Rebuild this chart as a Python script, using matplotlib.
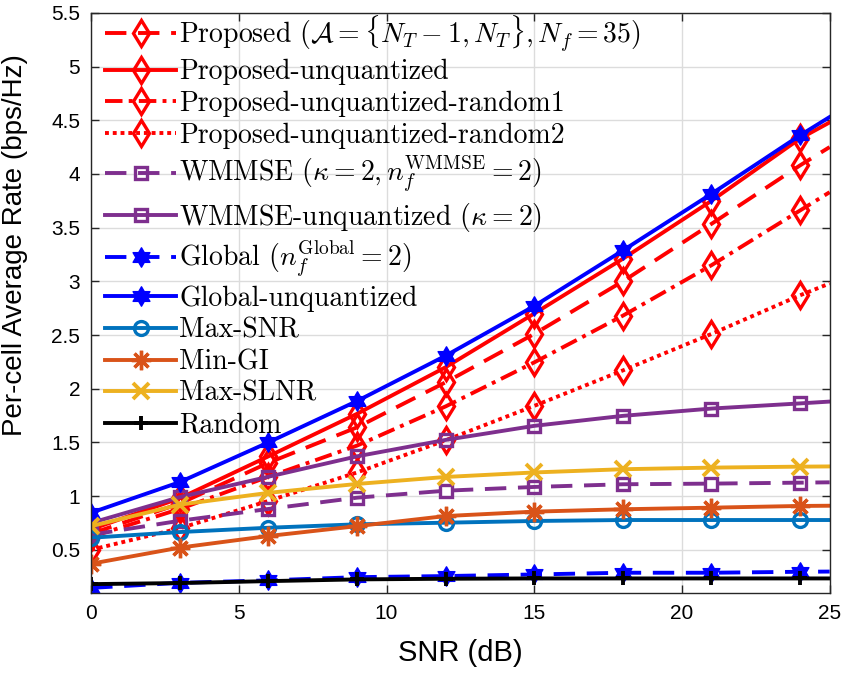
import matplotlib
matplotlib.use("Agg")
import matplotlib.pyplot as plt
import numpy as np
from matplotlib.path import Path

# SNR grid; last point only continues the lines to the right border
SNR_DB = [0, 3, 6, 9, 12, 15, 18, 21, 24, 25]

PROPOSED = [0.65, 0.93, 1.31, 1.64, 2.06, 2.51, 3.00, 3.535, 4.08, 4.25]
PROPOSED_UNQ = [0.69, 0.98, 1.37, 1.766, 2.20, 2.70, 3.21, 3.75, 4.33, 4.48]
PROPOSED_RAND1 = [0.62, 0.88, 1.18, 1.47, 1.835, 2.245, 2.68, 3.15, 3.66, 3.83]
PROPOSED_RAND2 = [0.50, 0.70, 0.955, 1.22, 1.52, 1.84, 2.17, 2.51, 2.87, 2.98]
WMMSE = [0.64, 0.77, 0.88, 0.985, 1.05, 1.085, 1.11, 1.116, 1.125, 1.128]
WMMSE_UNQ = [0.75, 0.99, 1.18, 1.37, 1.523, 1.654, 1.747, 1.815, 1.863, 1.88]
GLOBAL = [0.145, 0.192, 0.215, 0.245, 0.255, 0.27, 0.286, 0.286, 0.295, 0.297]
GLOBAL_UNQ = [0.845, 1.13, 1.50, 1.885, 2.307, 2.77, 3.287, 3.815, 4.36, 4.53]
MAX_SNR = [0.612, 0.665, 0.705, 0.737, 0.752, 0.768, 0.777, 0.777, 0.777, 0.777]
MIN_GI = [0.37, 0.52, 0.628, 0.72, 0.814, 0.855, 0.877, 0.892, 0.908, 0.91]
MAX_SLNR = [0.72, 0.92, 1.03, 1.113, 1.178, 1.22, 1.25, 1.265, 1.274, 1.276]
RANDOM = [0.18, 0.19, 0.208, 0.224, 0.23, 0.233, 0.233, 0.233, 0.233, 0.233]

LABELS = [
    r"Proposed ($\mathcal{A}=\{N_T-1,N_T\},N_f=35$)",
    "Proposed-unquantized",
    "Proposed-unquantized-random1",
    "Proposed-unquantized-random2",
    r"WMMSE ($\kappa=2,n_f^{\mathrm{WMMSE}}=2$)",
    r"WMMSE-unquantized ($\kappa=2$)",
    r"Global ($n_f^{\mathrm{Global}}=2$)",
    "Global-unquantized",
    "Max-SNR",
    "Min-GI",
    "Max-SLNR",
    "Random",
]


def hexagram():
    verts = []
    for k in range(6):
        a_out = np.pi / 2 + k * np.pi / 3
        a_in = a_out + np.pi / 6
        verts.append((np.cos(a_out), np.sin(a_out)))
        verts.append((np.cos(a_in) / np.sqrt(3), np.sin(a_in) / np.sqrt(3)))
    verts.append(verts[0])
    codes = [Path.MOVETO] + [Path.LINETO] * 11 + [Path.CLOSEPOLY]
    return Path(verts, codes)


HEX = hexagram()
RED = "#ff0000"
BLUE = "#0000ff"
PURPLE = "#7e2f8e"
DASH = (0, (5.5, 3.0))
DASHDOT = (0, (4.5, 1.6, 1.0, 1.6))
DOT = (0, (1.0, 1.0))

plt.rcParams["mathtext.fontset"] = "cm"

fig = plt.figure(figsize=(8.44, 6.77), dpi=100)
ax = fig.add_axes([0.108, 0.1245, 0.875, 0.8565])

lw = 2.8
mk = dict(markevery=list(range(9)))
series = [
    (PROPOSED, dict(color=RED, ls=DASH, marker="d", ms=13, mfc="none", mew=2.4)),
    (PROPOSED_UNQ, dict(color=RED, ls="-", marker="d", ms=13, mfc="none", mew=2.4)),
    (PROPOSED_RAND1, dict(color=RED, ls=DASHDOT, marker="d", ms=13, mfc="none", mew=2.4)),
    (PROPOSED_RAND2, dict(color=RED, ls=DOT, marker="d", ms=13, mfc="none", mew=2.4)),
    (WMMSE, dict(color=PURPLE, ls=DASH, marker="s", ms=9, mfc="none", mew=2.4)),
    (WMMSE_UNQ, dict(color=PURPLE, ls="-", marker="s", ms=9, mfc="none", mew=2.4)),
    (GLOBAL, dict(color=BLUE, ls=DASH, marker=HEX, ms=14, mfc=BLUE, mew=1)),
    (GLOBAL_UNQ, dict(color=BLUE, ls="-", marker=HEX, ms=14, mfc=BLUE, mew=1)),
    (MAX_SNR, dict(color="#0072bd", ls="-", marker="o", ms=10, mfc="none", mew=2.4)),
    (MIN_GI, dict(color="#d95319", ls="-", marker=(8, 2, 0), ms=14, mew=2.4)),
    (MAX_SLNR, dict(color="#edb120", ls="-", marker="x", ms=11, mew=2.8)),
    (RANDOM, dict(color="black", ls="-", marker="+", ms=10, mew=2.8)),
]
for (vals, style), label in zip(series, LABELS):
    ax.plot(SNR_DB, vals, lw=lw, label=label, **mk, **style)

ax.set_xlim(0, 25)
ax.set_ylim(0.1, 5.5)
ax.set_xticks([0, 5, 10, 15, 20, 25])
ax.set_yticks([0.5, 1, 1.5, 2, 2.5, 3, 3.5, 4, 4.5, 5, 5.5])
ax.set_yticklabels(["0.5", "1", "1.5", "2", "2.5", "3", "3.5", "4", "4.5", "5", "5.5"])
ax.grid(True, color="#dcdcdc", lw=1.0)
ax.set_axisbelow(True)
ax.tick_params(direction="in", top=True, right=True, length=6, width=1.0,
               labelsize=15, colors="#262626", pad=8)
for lab in ax.get_xticklabels() + ax.get_yticklabels():
    lab.set_fontfamily("Liberation Sans")
    lab.set_color("black")
for sp in ax.spines.values():
    sp.set_color("#262626")
    sp.set_linewidth(1.0)

ax.set_xlabel("SNR (dB)", fontsize=21, fontfamily="Liberation Sans", labelpad=12)
ax.set_ylabel("Per-cell Average Rate (bps/Hz)", fontsize=20,
              fontfamily="Liberation Sans")
ax.yaxis.set_label_coords(-0.085, 0.6)

leg = ax.legend(loc="upper left", bbox_to_anchor=(0.019, 1.0), frameon=False,
                prop={"family": "cmr10", "size": 20},
                handlelength=2.55, handletextpad=0.12, labelspacing=0.19,
                borderaxespad=0.0, borderpad=0.0)

fig.savefig("out.png", dpi=100)
